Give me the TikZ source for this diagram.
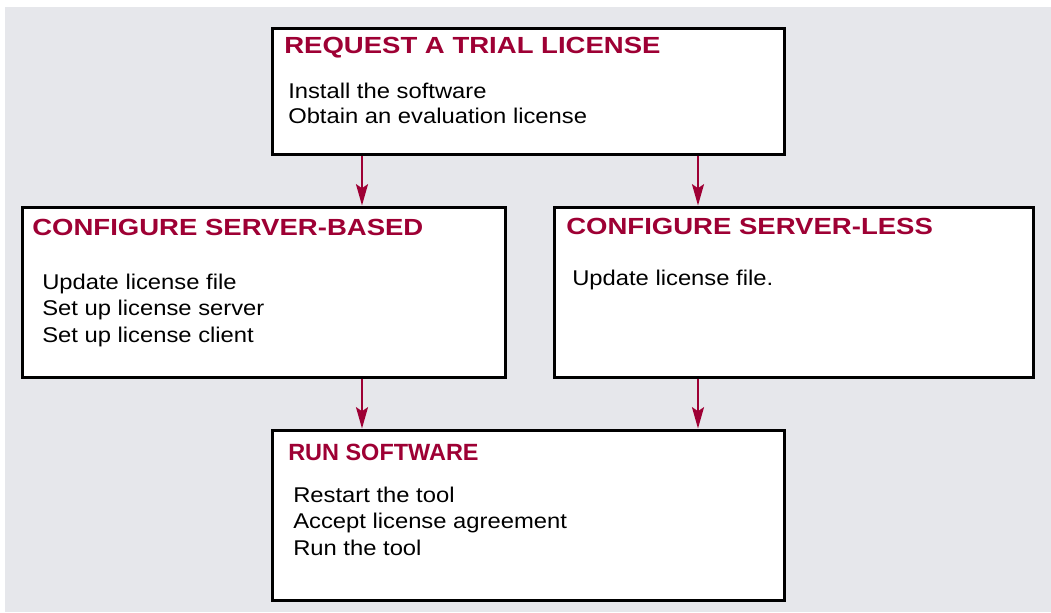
\documentclass[tikz,border=0pt]{standalone}
\usepackage{fontspec}
\setmainfont{Liberation Sans}
\newfontfamily\titlefont[FakeStretch=1.18]{Liberation Sans}
\newfontfamily\bodyfont[FakeStretch=1.115]{Liberation Sans}
\usetikzlibrary{arrows.meta}
\definecolor{flowred}{RGB}{158,0,52}
\definecolor{panelgray}{RGB}{230,231,235}

\tikzset{
  box/.style={draw=black, line width=2.25pt, fill=white, inner sep=0pt},
  head/.style={anchor=base west, inner sep=0pt, text=flowred,
    font=\titlefont\bfseries\fontsize{17.5}{21}\selectfont},
  plainhead/.style={head, font=\bfseries\fontsize{17.6}{21}\selectfont},
  body/.style={anchor=base west, inner sep=0pt, font=\bodyfont\fontsize{16}{19}\selectfont},
  flow/.style={draw=flowred, line width=1.5pt, -{Stealth[length=16pt,width=9pt,inset=3pt]}}
}

\begin{document}
\begin{tikzpicture}[x=0.75pt, y=-0.75pt]
        \useasboundingbox (0,0) rectangle (1051,612);
        \fill[panelgray] (5,7) rectangle (1051,612);
        % boxes
        \node[box, minimum width=384pt, minimum height=94.5pt] (req) at (528,91) {};
        \node[box, minimum width=362.25pt, minimum height=127.5pt] (based) at (263.5,292) {};
        \node[box, minimum width=359.25pt, minimum height=127.5pt] (less) at (793.5,292) {};
        \node[box, minimum width=384pt, minimum height=127.5pt] (run) at (528,515) {};
        % titles
        \node[head] (reqT) at (284,53) {REQUEST A TRIAL LICENSE};
        \node[head] (basedT) at (32,235) {CONFIGURE SERVER-BASED};
        \node[head] (lessT) at (566,234) {CONFIGURE SERVER-LESS};
        \node[plainhead] (runT) at (288,460) {RUN SOFTWARE};
        % steps
        \foreach \t/\y [count=\i] in {Install the software/98, Obtain an evaluation license/123} {
          \node[body] (req\i) at (288,\y) {\t};
        }
        \foreach \t/\y [count=\i] in {Update license file/289, Set up license server/315, Set up license client/342} {
          \node[body] (based\i) at (42,\y) {\t};
        }
        \node[body] (less1) at (572,285.5) {Update license file.};
        \foreach \t/\y [count=\i] in {Restart the tool/502, Accept license agreement/528, Run the tool/555} {
          \node[body] (run\i) at (293,\y) {\t};
        }
        % arrows
        \coordinate (lx) at (362,0);
        \coordinate (rx) at (698,0);
        \draw[flow] (lx |- req.south) -- (lx |- based.north);
        \draw[flow] (rx |- req.south) -- (rx |- less.north);
        \draw[flow] (lx |- based.south) -- (lx |- run.north);
        \draw[flow] (rx |- less.south) -- (rx |- run.north);
\end{tikzpicture}
\end{document}
